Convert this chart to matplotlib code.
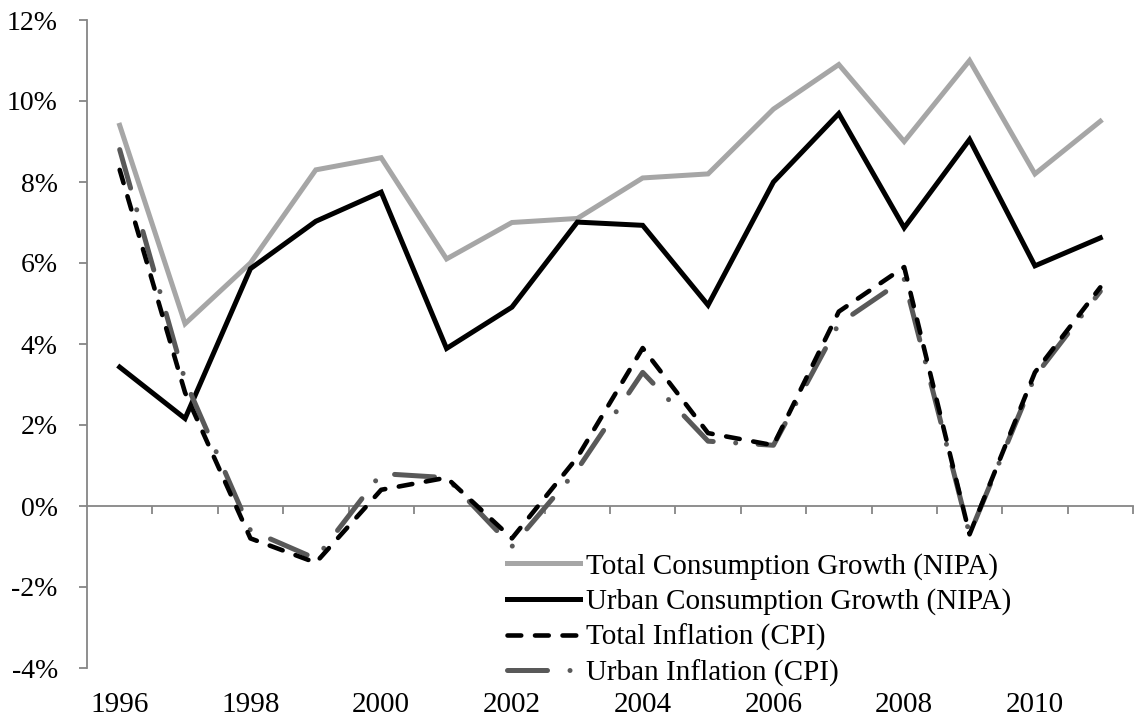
import matplotlib
matplotlib.use("Agg")
import matplotlib.pyplot as plt
from matplotlib.ticker import FixedLocator, FuncFormatter

years = list(range(1996, 2012))
total_consumption = [9.4, 4.5, 6.0, 8.3, 8.6, 6.1, 7.0, 7.1, 8.1, 8.2, 9.8, 10.9, 9.0, 11.0, 8.2, 9.5]
urban_consumption = [3.43, 2.16, 5.86, 7.03, 7.75, 3.89, 4.91, 7.01, 6.93, 4.96, 8.0, 9.69, 6.87, 9.05, 5.93, 6.62]
total_inflation = [8.3, 2.8, -0.8, -1.4, 0.4, 0.7, -0.8, 1.2, 3.9, 1.8, 1.5, 4.8, 5.9, -0.7, 3.3, 5.4]
urban_inflation = [8.8, 3.1, -0.6, -1.3, 0.8, 0.7, -1.0, 0.9, 3.3, 1.6, 1.5, 4.5, 5.6, -0.7, 3.2, 5.3]
labels = ["Total Consumption Growth (NIPA)", "Urban Consumption Growth (NIPA)",
          "Total Inflation (CPI)", "Urban Inflation (CPI)"]
y_ticks = [-4, -2, 0, 2, 4, 6, 8, 10, 12]
x_label_years = [1996, 1998, 2000, 2002, 2004, 2006, 2008, 2010]

plt.rcParams['font.family'] = ['Liberation Serif', 'DejaVu Serif']
FS = 21
axis_col = '#868686'

fig = plt.figure(figsize=(11.35, 7.19), dpi=100)
ax = fig.add_axes([87/1135, 1 - 668/719, (1133-87)/1135, (668-20)/719])

x = list(range(len(years)))
lw = 3.6
ax.plot(x, total_consumption, color='#A6A6A6', lw=lw, solid_joinstyle='miter', label=labels[0], zorder=3)
ax.plot(x, urban_consumption, color='#000000', lw=lw, solid_joinstyle='miter', label=labels[1], zorder=3)
ax.plot(x, total_inflation, color='#000000', lw=3.3, linestyle=(0, (3, 3)),
        dash_capstyle='round', label=labels[2], zorder=4)
ax.plot(x, urban_inflation, color='#595959', lw=3.6, linestyle=(0, (8, 4.5, 0.01, 4.5)),
        dash_capstyle='round', label=labels[3], zorder=3)

ax.set_xlim(-0.5, len(years) - 0.5)
ax.set_ylim(-4, 12)

for s in ['top', 'right']:
    ax.spines[s].set_visible(False)
ax.spines['left'].set_color(axis_col)
ax.spines['left'].set_linewidth(1.3)
ax.spines['bottom'].set_position(('data', 0))
ax.spines['bottom'].set_color(axis_col)
ax.spines['bottom'].set_linewidth(1.3)

ax.yaxis.set_major_locator(FixedLocator(y_ticks))
ax.yaxis.set_major_formatter(FuncFormatter(lambda v, p: f"{int(v)}%"))
ax.tick_params(axis='y', direction='out', length=6, width=1.3, color=axis_col,
               labelsize=20, pad=15)

ax.xaxis.set_major_locator(FixedLocator([i + 0.5 for i in x]))
ax.tick_params(axis='x', direction='out', length=6, width=1.3, color=axis_col,
               labelbottom=False)

sec = ax.secondary_xaxis(0.0)
sec.spines['bottom'].set_visible(False)
sec.set_xticks([years.index(y) for y in x_label_years])
sec.set_xticklabels([str(y) for y in x_label_years])
sec.tick_params(axis='x', length=0, labelsize=FS, pad=17)

leg = ax.legend(loc='upper left', bbox_to_anchor=((507-87)/1046, (668-553)/648),
                frameon=False, fontsize=FS, handlelength=2.5, handletextpad=0.2,
                labelspacing=0.29, borderpad=0, borderaxespad=0)

fig.savefig('out.png', dpi=100)
